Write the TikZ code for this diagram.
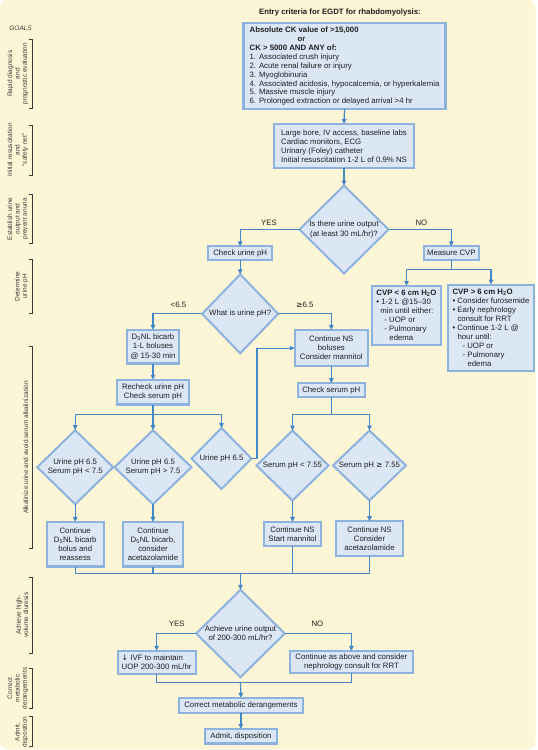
\documentclass[tikz,border=0pt]{standalone}
\usepackage{fontspec}
\setmainfont{Liberation Sans}
\newfontfamily\dejavu{DejaVu Sans}
\usetikzlibrary{shapes.geometric,arrows.meta}
\definecolor{cream}{HTML}{FDF6D6}
\definecolor{boxfill}{HTML}{DCE7F5}
\definecolor{boxline}{HTML}{8DB2DD}
\definecolor{cconn}{HTML}{4287C6}
\definecolor{txt}{HTML}{1E1E1E}
\definecolor{side}{HTML}{3A3A3A}
\begin{document}
\begin{tikzpicture}[x=1pt,y=-1pt,
  every node/.style={font=\fontsize{7.8}{9.1}\selectfont, text=txt},
  box/.style={draw=boxline, fill=boxfill, line width=2.2pt, inner xsep=3pt, inner ysep=2pt, align=center, outer sep=0pt},
  dia/.style={shape=diamond, draw=boxline, fill=boxfill, line width=2pt, inner sep=0pt, align=center, outer sep=0pt},
  ln/.style={draw=cconn, line width=1.2pt},
  arr/.style={ln, -{Triangle[length=5pt,width=4.5pt]}},
  lbl/.style={inner sep=0pt},
  sidelbl/.style={rotate=90, anchor=south, align=center, font=\fontsize{6.5}{7.4}\selectfont, text=side, inner sep=0pt},
  brk/.style={draw=side, line width=0.8pt}
]
\useasboundingbox (0,0) rectangle (538,750);
\fill[cream, rounded corners=8pt] (0,0) rectangle (535.5,749.5);

% sidebar
\node[font=\itshape\fontsize{6.5}{7}\selectfont, text=side] (goals) at (20.6,28.5) {GOALS};
\node[sidelbl] (s1) at (28.5,73.8) {Rapid diagnosis\\and\\prognostic evaluation};
\node[sidelbl] (s2) at (28.5,150) {Initial resuscitation\\and\\“safety net”};
\node[sidelbl] (s3) at (28.5,218.8) {Establish urine\\output and\\prevent anuria};
\node[sidelbl] (s4) at (28.5,286.4) {Determine\\urine pH};
\node[sidelbl] (s5) at (28.5,447.5) {Alkalinize urine and avoid serum alkalinization};
\node[sidelbl] (s6) at (28.5,615) {Achieve high-\\volume diuresis};
\node[sidelbl] (s7) at (28.5,688.4) {Correct\\metabolic\\derangements};
\node[sidelbl] (s8) at (28.5,732) {Admit,\\disposition};
\draw[brk] (28.5,39.5) -- (32,39.5) -- (32,108) -- (28.5,108);
\draw[brk] (28.5,125) -- (32,125) -- (32,175) -- (28.5,175);
\draw[brk] (28.5,194) -- (32,194) -- (32,243.5) -- (28.5,243.5);
\draw[brk] (28.5,259) -- (32,259) -- (32,313.8) -- (28.5,313.8);
\draw[brk] (28.5,346.4) -- (32,346.4) -- (32,548.6) -- (28.5,548.6);
\draw[brk] (28.5,577) -- (32,577) -- (32,653.2) -- (28.5,653.2);
\draw[brk] (28.5,668.6) -- (32,668.6) -- (32,708.1) -- (28.5,708.1);
\draw[brk] (28.5,716.7) -- (32,716.7) -- (32,746.5) -- (28.5,746.5);

% main flow
\node[font=\bfseries\fontsize{7.8}{9}\selectfont] (title) at (340,12.7) {Entry criteria for EGDT for rhabdomyolysis:};
\node[box, align=left, minimum width=202pt, minimum height=86pt, font=\fontsize{7.8}{8.9}\selectfont] (top) at (344.5,66.2) {%
\textbf{Absolute CK value of >15,000}\\
\hspace*{48pt}\textbf{or}\\
\textbf{CK > 5000 AND ANY of:}\\
1. Associated crush injury\\
2. Acute renal failure or injury\\
3. Myoglobinuria\\
4. Associated acidosis, hypocalcemia, or hyperkalemia\\
5. Massive muscle injury\\
6. Prolonged extraction or delayed arrival >4 hr};
\node[box, align=left, minimum width=140pt, minimum height=44pt] (init) at (344,146) {Large bore, IV access, baseline labs\\Cardiac monitors, ECG\\Urinary (Foley) catheter\\Initial resuscitation 1-2 L of 0.9\% NS};
\node[dia, minimum width=89pt, minimum height=88pt] (d1) at (344,229.5) {Is there urine output\\(at least 30 mL/hr)?};
\node[lbl] (yes1) at (269,223) {YES};
\node[lbl] (no1) at (421.4,223) {NO};
\node[box, minimum width=64pt, minimum height=13.4pt] (cup) at (240.2,253) {Check urine pH};
\node[box, minimum width=55pt, minimum height=13.4pt] (mcvp) at (451.3,253) {Measure CVP};
\node[dia, minimum width=76pt, minimum height=79pt] (d2) at (240.2,313.8) {What is urine pH?};
\node[lbl] (lt) at (178.4,305.2) {<6.5};
\node[lbl] (ge) at (304.7,305.2) {{\dejavu ≥}6.5};
\node[box, minimum width=51.5pt, minimum height=33.6pt] (d5nl) at (153,346.7) {D\textsubscript{5}NL bicarb\\1-L boluses\\@ 15-30 min};
\node[box, minimum width=73pt, minimum height=36.4pt] (cns) at (331.3,348.1) {Continue NS\\boluses\\Consider mannitol};
\coordinate (cs) at (451.3,269.2);
\node[box, align=left, minimum width=69pt, minimum height=59pt] (cvp1) at (406.5,315.5) {%
\textbf{CVP < 6 cm H\textsubscript{2}O}\\
• 1-2 L @15–30\\
\hspace*{4pt}min until either:\\
\hspace*{8pt}- UOP or\\
\hspace*{8pt}- Pulmonary\\
\hspace*{13pt}edema};
\node[box, align=left, minimum width=86pt, minimum height=86.4pt] (cvp2) at (491,327.8) {%
\textbf{CVP > 6 cm H\textsubscript{2}O}\\
• Consider furosemide\\
• Early nephrology\\
\hspace*{5pt}consult for RRT\\
• Continue 1-2 L @\\
\hspace*{5pt}hour until:\\
\hspace*{10pt}- UOP or\\
\hspace*{10pt}- Pulmonary\\
\hspace*{15pt}edema};
\node[box, minimum width=72pt, minimum height=24.7pt] (rck) at (153,392.2) {Recheck urine pH\\Check serum pH};
\node[box, minimum width=67pt, minimum height=14pt] (csp) at (331.3,390.2) {Check serum pH};
\coordinate (rs) at (153,414.7);
\coordinate (ss) at (331.3,414.7);
\node[dia, minimum width=76pt, minimum height=74pt] (da) at (75.2,467.2) {Urine pH 6.5\\Serum pH < 7.5};
\node[dia, minimum width=77pt, minimum height=74pt] (db) at (153,467.2) {Urine pH 6.5\\Serum pH > 7.5};
\node[dia, minimum width=60pt, minimum height=61pt] (dc) at (221.5,458.5) {Urine pH 6.5};
\node[dia, minimum width=72pt, minimum height=70pt] (dd) at (292.5,465.5) {Serum pH < 7.55};
\node[dia, minimum width=73pt, minimum height=70pt] (de) at (369.5,465.5) {Serum pH {\dejavu ≥} 7.55};
\node[box, minimum width=57pt, minimum height=44.6pt] (ba) at (75.2,544.2) {Continue\\D\textsubscript{5}NL bicarb\\bolus and\\reassess};
\node[box, minimum width=60.4pt, minimum height=44.6pt] (bb) at (153,544.2) {Continue\\D\textsubscript{5}NL bicarb,\\consider\\acetazolamide};
\node[box, minimum width=56.7pt, minimum height=24pt] (bd) at (292.5,533.9) {Continue NS\\Start mannitol};
\node[box, minimum width=67.6pt, minimum height=35pt] (be) at (369.5,538.7) {Continue NS\\Consider\\acetazolamide};
\coordinate (m1) at (240.5,573.3);
\node[dia, minimum width=88.5pt, minimum height=87.4pt] (d3) at (240.5,633.5) {Achieve urine output\\of 200-300 mL/hr?};
\node[lbl] (yes2) at (176.7,624) {YES};
\node[lbl] (no2) at (317.4,624) {NO};
\node[box, align=left, minimum width=78pt, minimum height=23pt] (ivf) at (156.6,662.3) {{\dejavu ↓} IVF to maintain\\UOP 200-300 mL/hr};
\node[box, minimum width=122.8pt, minimum height=22.3pt] (cont) at (351.4,662) {Continue as above and consider\\nephrology consult for RRT};
\coordinate (m2) at (240.5,682.4);
\node[box, minimum width=123.6pt, minimum height=15.4pt] (corr) at (240.9,705.5) {Correct metabolic derangements};
\node[box, minimum width=72pt, minimum height=14.5pt] (adm) at (240.9,736.3) {Admit, disposition};

% connectors
\draw[arr] (top.south) -- (init.north);
\draw[arr] (init.south) -- (d1.north);
\draw[arr] (d1.west) -| (cup.north);
\draw[arr] (d1.east) -| (mcvp.north);
\draw[arr] (cup.south) -- (d2.north);
\draw[arr] (d2.west) -| (d5nl.north);
\draw[arr] (d2.east) -| (cns.north);
\draw[ln] (mcvp.south) -- (cs);
\draw[arr] (cs) -| (cvp1.north);
\draw[arr] (cs) -| (cvp2.north);
\draw[arr] (d5nl.south) -- (rck.north);
\draw[arr] (cns.south) -- (csp.north);
\draw[ln] (rck.south) -- (rs);
\draw[arr] (rs) -| (da.north);
\draw[arr] (rs) -- (db.north);
\draw[arr] (rs) -| (dc.north);
\draw[ln] (csp.south) -- (ss);
\draw[arr] (ss) -| (dd.north);
\draw[arr] (ss) -| (de.north);
\draw[arr] (dc.east) -- ++(5.5,0) |- (cns.west);
\draw[arr] (da.south) -- (ba.north);
\draw[arr] (db.south) -- (bb.north);
\draw[arr] (dd.south) -- (bd.north);
\draw[arr] (de.south) -- (be.north);
\draw[ln] (ba.south) -- (ba.south |- m1) -- (be.south |- m1) -- (be.south);
\draw[ln] (bb.south) -- (bb.south |- m1);
\draw[ln] (bd.south) -- (bd.south |- m1);
\draw[arr] (m1) -- (d3.north);
\draw[arr] (d3.west) -| (ivf.north);
\draw[arr] (d3.east) -| (cont.north);
\draw[ln] (ivf.south) -- (ivf.south |- m2) -- (cont.south |- m2) -- (cont.south);
\draw[arr] (m2) -- (corr.north);
\draw[arr] (corr.south) -- (adm.north);
\end{tikzpicture}
\end{document}
